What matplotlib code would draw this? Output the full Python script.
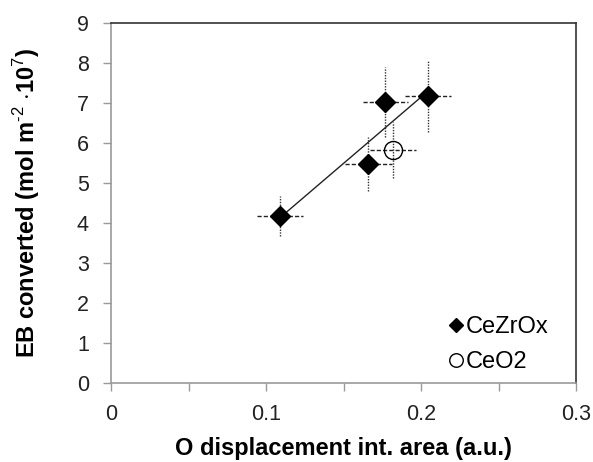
import numpy as np
import matplotlib
matplotlib.use('Agg')
import matplotlib.pyplot as plt
from matplotlib.ticker import MultipleLocator

plt.rcParams['font.family'] = ['Liberation Sans', 'DejaVu Sans']
plt.rcParams['mathtext.fontset'] = 'custom'
plt.rcParams['mathtext.rm'] = 'Liberation Sans'
plt.rcParams['mathtext.bf'] = 'Liberation Sans:bold'

# CeZrOx samples
x_zr = [0.109, 0.166, 0.177, 0.2045]
y_zr = [4.17, 5.47, 7.02, 7.17]
xerr_zr = [0.015, 0.015, 0.0145, 0.015]
yerr_zr = [0.5, 0.68, 0.88, 0.9]

# CeO2 sample
x_ce = [0.182]
y_ce = [5.82]
xerr_ce = [0.015]
yerr_ce = [0.7]

fig = plt.figure(figsize=(5.93, 4.62), dpi=100)
ax = fig.add_axes([111 / 593, 1 - 383 / 462, 465 / 593, 360 / 462])

# linear fit through CeZrOx points
k, b = np.polyfit(x_zr, y_zr, 1)
xl = np.array([min(x_zr), max(x_zr)])
ax.plot(xl, k * xl + b, color='#222222', lw=1, zorder=2)

# error bars: horizontal dashed, vertical dotted
for xs, ys, xe, ye in [(x_zr, y_zr, xerr_zr, yerr_zr), (x_ce, y_ce, xerr_ce, yerr_ce)]:
    e1 = ax.errorbar(xs, ys, xerr=xe, fmt='none', ecolor='#222222', elinewidth=1, zorder=1)
    e1[2][0].set_linestyle((0, (3, 1.5)))
    e2 = ax.errorbar(xs, ys, yerr=ye, fmt='none', ecolor='#333333', elinewidth=1, zorder=1)
    e2[2][0].set_linestyle((0, (1, 1)))

ax.plot(x_zr, y_zr, 'D', color='black', ms=10, ls='none', zorder=3, label='CeZrOx')
ax.plot(x_ce, y_ce, 'o', mfc='none', mec='black', mew=1, ms=13, ls='none', zorder=3, label='CeO2')

ax.set_xlim(0, 0.3)
ax.set_ylim(0, 9)
ax.xaxis.set_minor_locator(MultipleLocator(0.05))
ax.yaxis.set_major_locator(MultipleLocator(1))
ax.set_xticks([0, 0.1, 0.2, 0.3])
ax.set_xticklabels(['0', '0.1', '0.2', '0.3'])

ax.tick_params(axis='both', which='both', direction='out', length=6, width=1,
               colors='#999999', labelcolor='#222222', labelsize=15.5)
ax.tick_params(axis='y', pad=10)
ax.tick_params(axis='x', pad=9)
ax.tick_params(top=False, right=False)

ax.spines['left'].set_color('#999999')
ax.spines['bottom'].set_color('#999999')
ax.spines['top'].set_color('#333333')
ax.spines['right'].set_color('#333333')
for s in ax.spines.values():
    s.set_linewidth(1.2)

ax.set_xlabel('O displacement int. area (a.u.)', fontsize=17, fontweight='bold', labelpad=9)
ax.set_ylabel(r'EB converted (mol m$^{\text{-}2}$ $\mathbf{\cdot}$10$^{7}$)',
              fontsize=17, fontweight='bold', labelpad=25)

ax.legend(loc='lower right', bbox_to_anchor=(1 - 9 / 465, -9 / 360), frameon=False,
          fontsize=17, markerscale=0.75, handlelength=0.6, handletextpad=0.1,
          borderaxespad=0.4, labelspacing=0.55)

fig.savefig('out.png', dpi=100)
